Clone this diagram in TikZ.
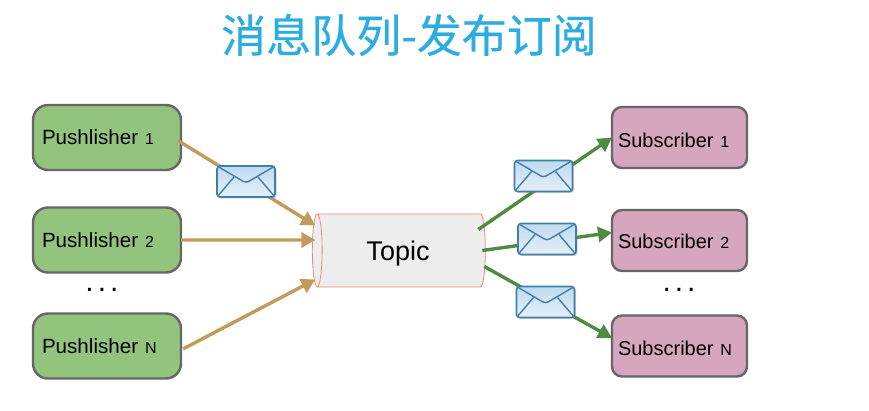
\documentclass[tikz,border=0pt]{standalone}
\usepackage{fontspec}
\setmainfont{Liberation Sans}
\newfontfamily\cjk[FakeBold=0.5]{Noto Sans CJK SC}
\usetikzlibrary{shapes.geometric,arrows.meta,shadows}
\definecolor{titleblue}{HTML}{2BACE2}
\definecolor{pubgreen}{HTML}{93C47D}
\definecolor{subpink}{HTML}{D5A6BD}
\definecolor{boxedge}{HTML}{666666}
\definecolor{tanline}{HTML}{C49A5C}
\definecolor{greenline}{HTML}{4F8A43}
\definecolor{envedge}{HTML}{3F7FA8}
\definecolor{envtop}{HTML}{BFDAF0}
\definecolor{envbottom}{HTML}{E6EFF8}
\definecolor{topicedge}{HTML}{EE8A78}
\tikzset{
  pubbox/.style={draw=boxedge,line width=2.4pt,rounded corners=15pt,fill=pubgreen,outer sep=0pt,
    minimum width=148pt,minimum height=65pt,inner xsep=9pt,inner ysep=0pt,text width=130pt,align=left,font=\fontsize{20.6}{24}\selectfont},
  subbox/.style={draw=boxedge,line width=2.4pt,rounded corners=10pt,fill=subpink,outer sep=0pt,
    minimum width=135pt,minimum height=61pt,inner xsep=6pt,inner ysep=0pt,text width=123pt,align=left,font=\fontsize{20}{24}\selectfont},
  topicbox/.style={cylinder,shape border rotate=180,aspect=0.3,draw=topicedge,line width=0.8pt,
    cylinder uses custom fill,cylinder body fill=black!7,cylinder end fill=black!7,outer sep=0pt,
    minimum width=73pt,minimum height=173pt,font=\fontsize{27}{30}\selectfont},
  tanarrow/.style={draw=tanline,line width=3.4pt,-{Triangle[length=14pt,width=15pt]}},
  greenarrow/.style={draw=greenline,line width=3.4pt,-{Triangle[length=14pt,width=15pt]}},
  envelope/.style={draw=envedge,line width=1.6pt,rounded corners=3pt,top color=envtop,bottom color=envbottom,
    minimum width=58pt,minimum height=31pt,inner sep=0pt,outer sep=0pt,drop shadow={shadow xshift=1.5pt,shadow yshift=-1.5pt,opacity=.35},
    path picture={
      \draw[envedge,line width=1.4pt]
        (path picture bounding box.north west) -- ([yshift=-17pt]path picture bounding box.north) -- (path picture bounding box.north east);
      \draw[envedge,line width=1.4pt]
        (path picture bounding box.south west) -- ([xshift=17pt,yshift=-11pt]path picture bounding box.north west);
      \draw[envedge,line width=1.4pt]
        (path picture bounding box.south east) -- ([xshift=-17pt,yshift=-11pt]path picture bounding box.north east);
    }},
  dotlabel/.style={font=\fontsize{30}{30}\selectfont,inner sep=0pt},
  titlelabel/.style={font=\cjk\fontsize{45}{50}\selectfont,text=titleblue,inner sep=0pt}
}
\newcommand{\numtag}[1]{{\fontsize{16}{20}\selectfont #1}}
\newcommand{\lowered}[2]{\raisebox{-#1pt}[0pt][0pt]{#2}}
\begin{document}
\begin{tikzpicture}[x=1pt,y=-1pt]
\useasboundingbox (0,0) rectangle (869,411);
\node[titlelabel] (title) at (409,35) {消息队列-发布订阅};
\node[pubbox] (p1) at (107,137.5) {\lowered{7}{Pushlisher \numtag{1}}};
\node[pubbox] (p2) at (107,240) {\lowered{7.5}{Pushlisher \numtag{2}}};
\node[pubbox] (pn) at (107,346) {\lowered{7}{Pushlisher \numtag{N}}};
\node[subbox] (s1) at (679.5,137.5) {\lowered{10.5}{Subscriber \numtag{1}}};
\node[subbox] (s2) at (679.5,240.5) {\lowered{8.5}{Subscriber \numtag{2}}};
\node[subbox] (sn) at (679.5,346) {\lowered{9}{Subscriber \numtag{N}}};
\node[topicbox] (topic) at (402.5,250.5) {\makebox[0pt]{\hspace{-9pt}\raisebox{-10pt}[13pt][13pt]{Topic}}};
\node[dotlabel] (d1) at (102,290) {.\hspace{4pt}.\hspace{4pt}.};
\node[dotlabel] (d2) at (679,290) {.\hspace{4pt}.\hspace{4pt}.};
\draw[tanarrow] ([xshift=-3pt,yshift=-3pt]p1.east) -- ([xshift=3pt,yshift=25pt]topic.west);
\draw[tanarrow] (p2.east) -- ([xshift=3pt,yshift=10.5pt]topic.west);
\draw[tanarrow] ([xshift=2pt,yshift=-3pt]pn.east) -- ([xshift=3pt,yshift=-29pt]topic.west);
\draw[greenarrow] ([xshift=-7pt,yshift=21pt]topic.east) -- (s1.west);
\draw[greenarrow] ([xshift=-3pt,yshift=0pt]topic.east) -- ([yshift=8pt]s2.west);
\draw[greenarrow] ([xshift=-1pt,yshift=-16pt]topic.east) -- ([yshift=8pt]sn.west);
\node[envelope] (m1) at (246,181.5) {};
\node[envelope] (m2) at (543.5,176) {};
\node[envelope] (m3) at (547,239) {};
\node[envelope] (m4) at (545.5,302) {};
\end{tikzpicture}
\end{document}
